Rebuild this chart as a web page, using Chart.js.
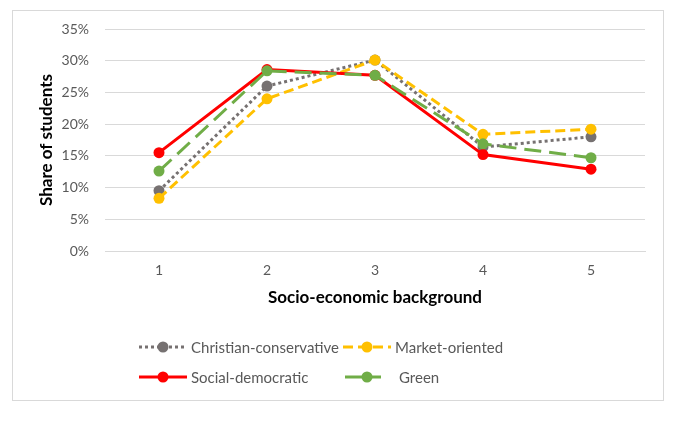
<!DOCTYPE html>
<html>
<head>
<meta charset="utf-8">
<script src="https://cdn.jsdelivr.net/npm/chart.js@4"></script>
<style>
  html, body { margin: 0; padding: 0; background: #fff; }
  body { width: 677px; height: 435px; position: relative; overflow: hidden; font-family: Lato, "Liberation Sans", sans-serif; }
  #heading { position: absolute; left: 12px; top: -22px; font: bold 27px "Liberation Serif", serif; color: #000; white-space: nowrap; line-height: 27px; }
  #box { position: absolute; left: 12px; top: 10px; width: 652px; height: 391px; box-sizing: border-box; border: 1px solid #d9d9d9; }
  #wrap { position: absolute; left: 0; top: 0; width: 677px; height: 435px; }
  .leg { position: absolute; display: flex; align-items: center; font-size: 15px; color: #595959; white-space: nowrap; }
  .leg svg { display: block; margin-right: 4px; }
</style>
</head>
<body>
<div id="heading">students.</div>
<div id="box"></div>
<div id="wrap"><canvas id="c" width="677" height="435"></canvas></div>
<div id="legend"></div>
<script>
const categories = ['1', '2', '3', '4', '5'];
const seriesNames = ['Christian-conservative', 'Market-oriented', 'Social-democratic', 'Green'];
const christianConservative = [9.5, 26.0, 30.1, 16.4, 18.0];
const marketOriented = [8.3, 24.0, 30.1, 18.4, 19.2];
const socialDemocratic = [15.5, 28.6, 27.7, 15.2, 12.9];
const green = [12.6, 28.4, 27.7, 16.9, 14.7];
const yTicks = [0, 5, 10, 15, 20, 25, 30, 35];
const yTitle = 'Share of students';
const xTitle = 'Socio-economic background';

const colors = ['#767171', '#FFC000', '#FF0000', '#70AD47'];
const dashes = [[3, 3], [10, 5], [], [17, 8]];
const values = [christianConservative, marketOriented, socialDemocratic, green];

const datasets = seriesNames.map((name, i) => ({
  label: name,
  data: values[i],
  order: seriesNames.length - 1 - i,
  borderColor: colors[i],
  backgroundColor: colors[i],
  borderWidth: 3,
  borderDash: dashes[i],
  pointRadius: 5.5,
  pointHoverRadius: 5.5,
  pointBorderWidth: 0,
  pointBackgroundColor: colors[i],
  tension: 0,
  fill: false
}));

new Chart(document.getElementById('c'), {
  type: 'line',
  data: { labels: categories, datasets: datasets },
  options: {
    responsive: false,
    animation: false,
    events: [],
    layout: { padding: { left: 30, right: 32, top: 29, bottom: 124 } },
    plugins: { legend: { display: false }, tooltip: { enabled: false } },
    scales: {
      x: {
        offset: true,
        grid: { display: false, drawTicks: false },
        border: { display: true, color: '#d9d9d9', width: 1 },
        ticks: { color: '#595959', font: { family: 'Lato', size: 14 }, padding: 11 },
        title: { display: true, text: xTitle, color: '#000', font: { family: 'Lato', size: 17, weight: 'bold' }, padding: { top: 0, bottom: 3 } },
        afterFit: s => { s.height = 60; }
      },
      y: {
        min: 0, max: 35,
        afterBuildTicks: s => { s.ticks = yTicks.map(v => ({ value: v })); },
        grid: { color: '#d9d9d9', lineWidth: 1, drawTicks: false },
        border: { display: false },
        ticks: { color: '#595959', font: { family: 'Lato', size: 14 }, padding: 16, callback: v => v + '%' },
        title: { display: true, text: yTitle, color: '#000', font: { family: 'Lato', size: 17, weight: 'bold' }, padding: { top: 6, bottom: 0 } },
        afterFit: s => { s.width = 75; }
      }
    }
  }
});

// HTML legend with line-style samples
const legendPos = [
  { x: 139, y: 347, w: 48 },
  { x: 343, y: 347, w: 49 },
  { x: 139, y: 377, w: 48 },
  { x: 343, y: 377, w: 48 }
];
const legend = document.getElementById('legend');
seriesNames.forEach((name, i) => {
  const p = legendPos[i];
  const d = document.createElement('div');
  d.className = 'leg';
  d.style.left = p.x + 'px';
  d.style.top = (p.y - 10) + 'px';
  d.style.height = '20px';
  const dash = dashes[i].length ? `stroke-dasharray="${dashes[i].join(' ')}"` : '';
  const svgW = i === 3 ? 52 : 48;
  const lineLen = i === 3 ? 38 : p.w;
  const dashOffset = i === 3 ? 'stroke-dashoffset="-2"' : '';
  d.innerHTML = `<svg width="${svgW}" height="20"><line x1="0" y1="10" x2="${lineLen}" y2="10" stroke="${colors[i]}" stroke-width="3" ${dash} ${dashOffset}/><circle cx="24" cy="10" r="5.5" fill="${colors[i]}"/></svg><span>${name}</span>`;
  legend.appendChild(d);
});
</script>
</body>
</html>
